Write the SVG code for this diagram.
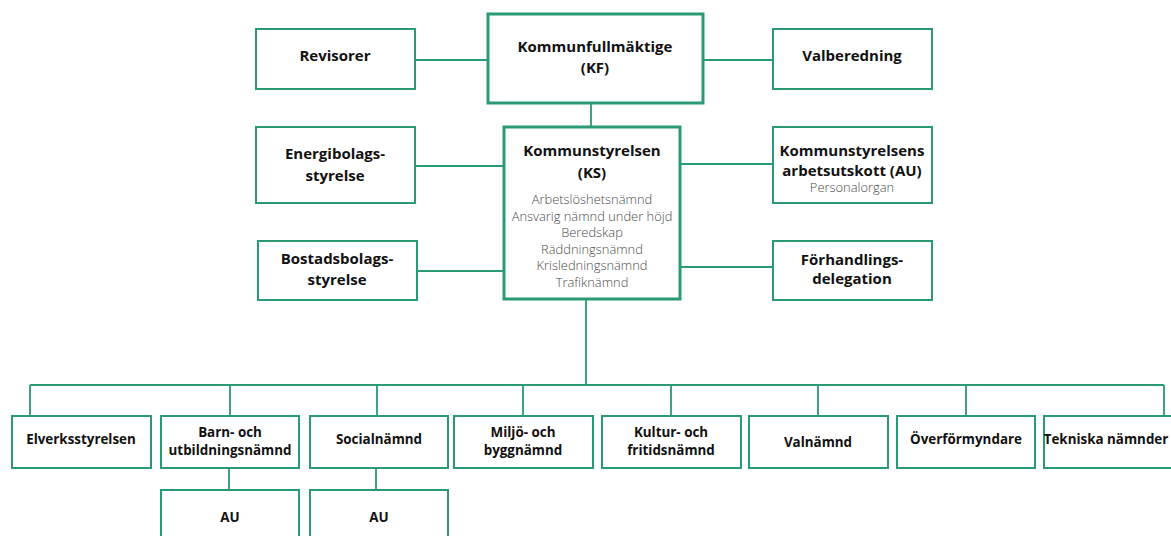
<svg xmlns="http://www.w3.org/2000/svg" width="1171" height="536" viewBox="0 0 1171 536">
<style>
.box{fill:#fff;stroke:#2a9a76;stroke-width:2}
.main{fill:#fff;stroke:#2a9a76;stroke-width:3}
.con{stroke:#2a9a76;stroke-width:1.8;fill:none}
.t{font-family:"Open Sans","Noto Sans",sans-serif;font-weight:700;font-size:15px;fill:#111;text-anchor:middle}
.s{font-family:"Open Sans","Noto Sans",sans-serif;font-weight:700;font-size:13.4px;fill:#111;text-anchor:middle}
.l{font-family:"Open Sans","Noto Sans",sans-serif;font-weight:300;font-size:12.9px;fill:#4a4a4a;text-anchor:middle}
</style>
<rect width="1171" height="536" fill="#fff"/>
<g id="connectors">
<path class="con" d="M415 60H488M703 60H773M591 103V127"/>
<path class="con" d="M415 166H504M417 271H504M680 164H773M680 267H773"/>
<path class="con" d="M586 299V385M30 385H1164M30 385V416M230 385V416M377 385V416M523 385V416M671 385V416M818 385V416M966 385V416M1164 385V416"/>
<path class="con" d="M229 468V490M376 468V490"/>
</g>
<g id="kf"><rect class="main" x="488" y="14" width="215" height="89"/><text class="t" x="595" y="52">Kommunfullmäktige</text><text class="t" x="595" y="73">(KF)</text></g>
<g id="revisorer"><rect class="box" x="256" y="29" width="159" height="60"/><text class="t" x="335" y="61">Revisorer</text></g>
<g id="valberedning"><rect class="box" x="773" y="29" width="159" height="60"/><text class="t" x="852" y="61">Valberedning</text></g>
<g id="ks"><rect class="main" x="504" y="127" width="176" height="172"/><text class="t" x="592" y="156">Kommunstyrelsen</text><text class="t" x="592" y="178">(KS)</text>
<text class="l" x="592" y="204">Arbetslöshetsnämnd</text><text class="l" x="592" y="221">Ansvarig nämnd under höjd</text><text class="l" x="592" y="237">Beredskap</text><text class="l" x="592" y="254">Räddningsnämnd</text><text class="l" x="592" y="270">Krisledningsnämnd</text><text class="l" x="592" y="287">Trafiknämnd</text></g>
<g id="energi"><rect class="box" x="256" y="127" width="159" height="76"/><text class="t" x="335" y="159">Energibolags-</text><text class="t" x="335" y="181">styrelse</text></g>
<g id="bostad"><rect class="box" x="258" y="241" width="159" height="59"/><text class="t" x="337" y="264">Bostadsbolags-</text><text class="t" x="337" y="285">styrelse</text></g>
<g id="ksau"><rect class="box" x="773" y="127" width="159" height="76"/><text class="t" x="852" y="156">Kommunstyrelsens</text><text class="t" x="852" y="176">arbetsutskott (AU)</text><text class="l" x="852" y="192">Personalorgan</text></g>
<g id="forhandling"><rect class="box" x="773" y="241" width="159" height="59"/><text class="t" x="852" y="265">Förhandlings-</text><text class="t" x="852" y="284">delegation</text></g>
<g id="elverk"><rect class="box" x="12" y="416" width="139" height="52"/><text class="s" x="81" y="444">Elverksstyrelsen</text></g>
<g id="barn"><rect class="box" x="161" y="416" width="138" height="52"/><text class="s" x="230" y="437">Barn- och</text><text class="s" x="230" y="455">utbildningsnämnd</text></g>
<g id="social"><rect class="box" x="310" y="416" width="138" height="52"/><text class="s" x="379" y="444">Socialnämnd</text></g>
<g id="miljo"><rect class="box" x="454" y="416" width="139" height="52"/><text class="s" x="523" y="437">Miljö- och</text><text class="s" x="523" y="455">byggnämnd</text></g>
<g id="kultur"><rect class="box" x="602" y="416" width="139" height="52"/><text class="s" x="671" y="437">Kultur- och</text><text class="s" x="671" y="455">fritidsnämnd</text></g>
<g id="valnamnd"><rect class="box" x="749" y="416" width="139" height="52"/><text class="s" x="818" y="447">Valnämnd</text></g>
<g id="overformyndare"><rect class="box" x="897" y="416" width="138" height="52"/><text class="s" x="966" y="444">Överförmyndare</text></g>
<g id="tekniska"><rect class="box" x="1044" y="416" width="140" height="52"/><text class="s" x="1106" y="444">Tekniska nämnder</text></g>
<g id="barn-au"><rect class="box" x="161" y="490" width="138" height="60"/><text class="s" x="230" y="522">AU</text></g>
<g id="social-au"><rect class="box" x="310" y="490" width="138" height="60"/><text class="s" x="379" y="522">AU</text></g>
</svg>
